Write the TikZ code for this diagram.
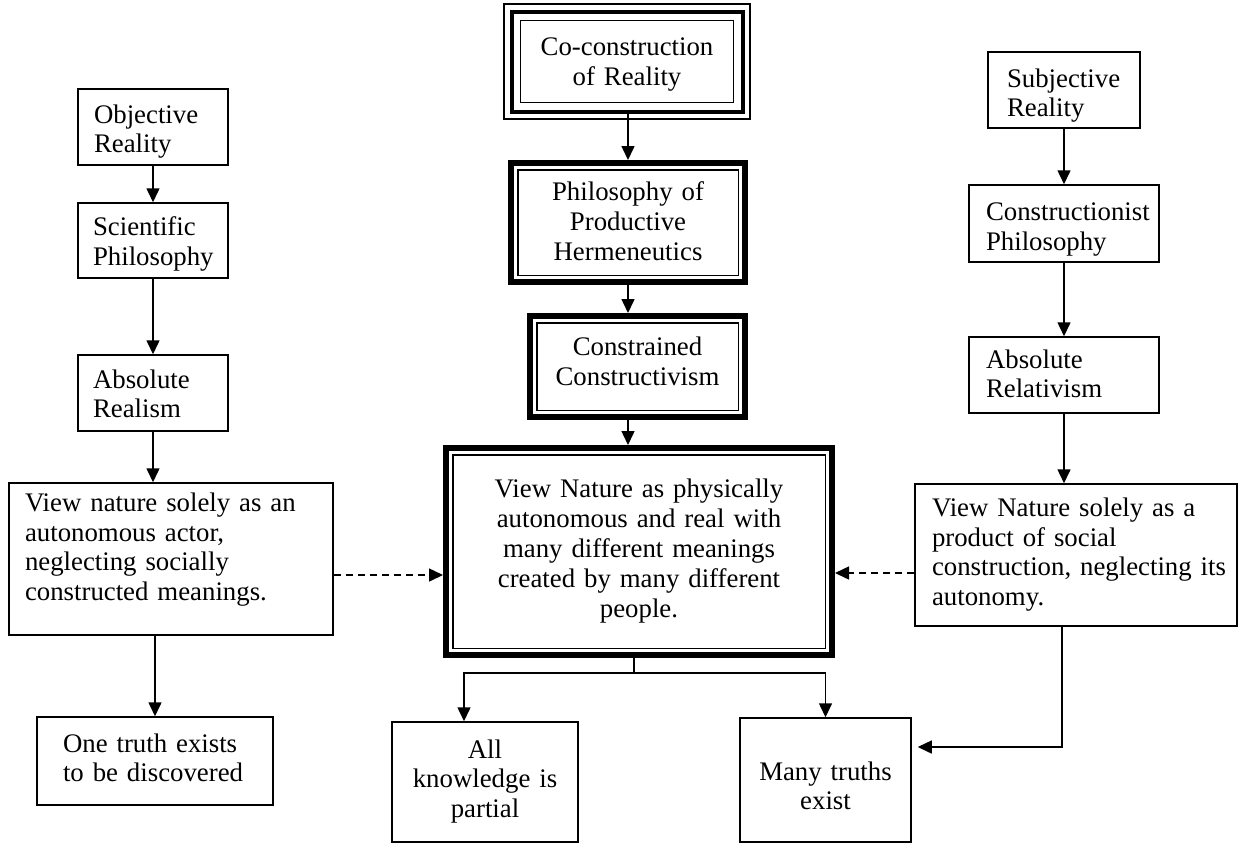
\documentclass[tikz,border=0pt]{standalone}
\usepackage{fontspec}
\setmainfont{Liberation Serif}
\usetikzlibrary{arrows.meta}
\newcommand{\bxl}[2]{\raisebox{#1}[\height][\depth]{\begin{tabular}{@{}l@{}}#2\end{tabular}}}
\newcommand{\bxc}[2]{\raisebox{#1}[\height][\depth]{\begin{tabular}{@{}c@{}}#2\end{tabular}}}
\tikzset{
  txt/.style={font=\fontsize{26.8}{29.8}\selectfont},
  box/.style={draw, line width=1.5pt, txt, inner ysep=2pt},
  lbox/.style={box, align=left},
  cbox/.style={box, align=center},
  heavybox/.style={draw, line width=6pt, txt, align=center, inner sep=4pt},
  arr/.style={line width=1.5pt, -{Triangle[length=14pt,width=13pt]}},
  plain/.style={line width=1.5pt},
  dsh/.style={line width=1.5pt, dash pattern=on 7pt off 5pt, -{Triangle[length=14pt,width=13pt]}},
  thinrule/.style={line width=1.5pt}
}
\begin{document}
\begin{tikzpicture}[x=1pt,y=-1pt]
\useasboundingbox (0,0) rectangle (1238,844);

% left column
\node[lbox, text width=118pt, inner xsep=16pt, minimum height=76pt] (obj) at (153,127) {\bxl{-5pt}{Objective\\Reality}};
\node[lbox, text width=120pt, inner xsep=15pt, minimum height=75pt] (sci) at (153,240.5) {\bxl{-4pt}{Scientific\\Philosophy}};
\node[lbox, text width=120pt, inner xsep=15pt, minimum height=76pt] (absre) at (153,393) {\bxl{-4pt}{Absolute\\Realism}};
\node[lbox, text width=292pt, inner xsep=16pt, minimum height=152pt] (leftbig) at (171,559) {\bxl{9pt}{View nature solely as an\\autonomous actor,\\neglecting socially\\constructed meanings.}};
\node[lbox, text width=184pt, inner xsep=26pt, minimum height=88pt] (onetruth) at (155,761) {\bxl{0pt}{One truth exists\\to be discovered}};

% right column
\node[lbox, text width=114pt, inner xsep=19pt, minimum height=76pt] (subj) at (1064,90) {\bxl{-6pt}{Subjective\\Reality}};
\node[lbox, text width=156pt, inner xsep=17pt, minimum height=77pt] (constrph) at (1064,223.5) {\bxl{-6pt}{Constructionist\\Philosophy}};
\node[lbox, text width=156pt, inner xsep=17pt, minimum height=76pt] (absrel) at (1064,375) {\bxl{-2pt}{Absolute\\Relativism}};
\node[lbox, text width=288pt, inner xsep=17pt, minimum height=142pt] (rightbig) at (1076,555) {\bxl{0pt}{View Nature solely as a\\product of social\\construction, neglecting its\\autonomy.}};

% centre column
\node[heavybox, line width=4pt, minimum width=231pt, minimum height=100pt, text width=200pt] (coc) at (627,61.5) {\bxc{-3pt}{Co-construction\\of Reality}};
\draw[thinrule] ([shift={(-5.5pt,5.5pt)}]coc.north west) rectangle ([shift={(5.5pt,-5.5pt)}]coc.south east);
\draw[thinrule] ([shift={(11pt,-11pt)}]coc.north west) rectangle ([shift={(-11pt,11pt)}]coc.south east);

\node[heavybox, minimum width=234pt, minimum height=119pt, text width=200pt] (phil) at (628,222.5) {\bxc{-2pt}{Philosophy of\\Productive\\Hermeneutics}};
\draw[thinrule] ([shift={(9.75pt,-9.75pt)}]phil.north west) rectangle ([shift={(-9.75pt,9.75pt)}]phil.south east);

\node[heavybox, minimum width=215pt, minimum height=101pt, text width=190pt] (constr) at (637.5,366.5) {\bxc{2pt}{Constrained\\Constructivism}};
\draw[thinrule] ([shift={(9.75pt,-9.75pt)}]constr.north west) rectangle ([shift={(-9.75pt,9.75pt)}]constr.south east);

\node[heavybox, minimum width=386pt, minimum height=207pt, text width=350pt] (view) at (639,551.5) {\bxc{0pt}{View Nature as physically\\autonomous and real with\\many different meanings\\created by many different\\people.}};
\draw[thinrule] ([shift={(9.75pt,-9.75pt)}]view.north west) rectangle ([shift={(-9.75pt,9.75pt)}]view.south east);

\node[cbox, text width=166pt, inner xsep=10pt, minimum height=120pt] (allk) at (485,782) {\bxc{0pt}{All\\knowledge is\\partial}};
\node[cbox, text width=151pt, inner xsep=10pt, minimum height=124pt] (many) at (825.5,780) {\bxc{-9pt}{Many truths\\exist}};

% connectors
\draw[arr] (obj.south) -- (sci.north);
\draw[arr] (sci.south) -- (absre.north);
\draw[arr] (absre.south) -- (absre.south |- leftbig.north);
\draw[arr] (onetruth.north |- leftbig.south) -- (onetruth.north);

\draw[arr] (phil.north |- coc.south) -- (phil.north);
\draw[arr] (phil.south) -- (phil.south |- constr.north);
\draw[arr] (phil.south |- constr.south) -- (phil.south |- view.north);

\coordinate (split) at (634,673);
\coordinate (ka) at (464,673);
\draw[plain] (split |- view.south) -- (split);
\draw[arr] (split) -- (ka) -- (ka |- allk.north);
\draw[arr] (split) -| (many.north);

\draw[dsh] ([yshift=-16pt]leftbig.east) -- ([yshift=-16pt]leftbig.east -| view.west);
\draw[dsh] ([yshift=-18pt]rightbig.west) -- ([yshift=-18pt]rightbig.west -| view.east);

\draw[arr] (subj.south) -- (constrph.north);
\draw[arr] (constrph.south) -- (absrel.north);
\draw[arr] (absrel.south) -- (absrel.south |- rightbig.north);

\coordinate (rc) at (1062,747);
\draw[arr, shorten >=6pt] (rc |- rightbig.south) -- (rc) -- (rc -| many.east);
\end{tikzpicture}
\end{document}
